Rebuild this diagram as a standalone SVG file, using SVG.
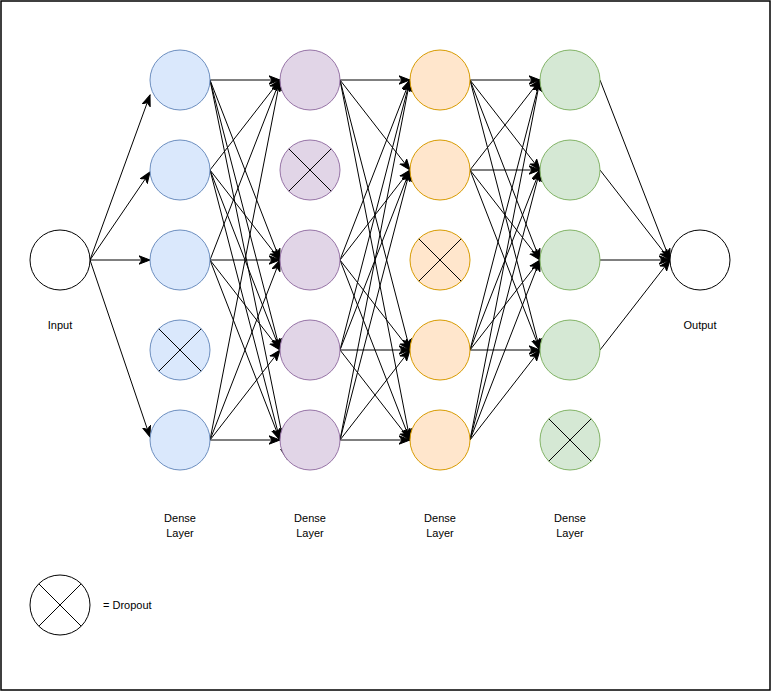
<svg xmlns="http://www.w3.org/2000/svg" width="771" height="691" viewBox="0 0 771 691">
<style>
.e{stroke:#000;stroke-width:1;fill:none;marker-end:url(#a)}
.t{font-family:"Liberation Sans",Arial,sans-serif;font-size:11px;fill:#000;text-anchor:middle}
.b{fill:#dae8fc;stroke:#6c8ebf}
.p{fill:#e1d5e7;stroke:#9673a6}
.o{fill:#ffe6cc;stroke:#d79b00}
.g{fill:#d5e8d4;stroke:#82b366}
.w{fill:#fff;stroke:#000}
.x{stroke:#000;stroke-width:1}
</style>
<defs>
<marker id="a" markerUnits="userSpaceOnUse" markerWidth="12" markerHeight="10" viewBox="0 0 12 10" refX="11" refY="5" orient="auto">
<path d="M0,0.8 L11,5 L0,9.2 L3,5 z" fill="#000" stroke="#000" stroke-width="1"/>
</marker>
</defs>
<rect x="1" y="1" width="769" height="689" fill="#fff" stroke="#000" stroke-width="1.5"/>
<g id="connectors">
<line class="e" x1="90" y1="260" x2="150" y2="95"/>
<line class="e" x1="90" y1="260" x2="150" y2="172"/>
<line class="e" x1="90" y1="260" x2="150" y2="260"/>
<line class="e" x1="90" y1="260" x2="150" y2="437"/>
<line class="e" x1="210" y1="80" x2="280" y2="80"/>
<line class="e" x1="210" y1="80" x2="280" y2="260"/>
<line class="e" x1="210" y1="80" x2="280" y2="350"/>
<line class="e" x1="210" y1="80" x2="287" y2="459"/>
<line class="e" x1="210" y1="170" x2="280" y2="80"/>
<line class="e" x1="210" y1="170" x2="280" y2="260"/>
<line class="e" x1="210" y1="170" x2="280" y2="350"/>
<line class="e" x1="210" y1="170" x2="280" y2="440"/>
<line class="e" x1="210" y1="260" x2="280" y2="80"/>
<line class="e" x1="210" y1="260" x2="280" y2="260"/>
<line class="e" x1="210" y1="260" x2="280" y2="350"/>
<line class="e" x1="210" y1="260" x2="280" y2="440"/>
<line class="e" x1="210" y1="440" x2="280" y2="80"/>
<line class="e" x1="210" y1="440" x2="280" y2="260"/>
<line class="e" x1="210" y1="440" x2="280" y2="350"/>
<line class="e" x1="210" y1="440" x2="280" y2="440"/>
<line class="e" x1="340" y1="80" x2="410" y2="80"/>
<line class="e" x1="340" y1="80" x2="410" y2="170"/>
<line class="e" x1="340" y1="80" x2="410" y2="350"/>
<line class="e" x1="340" y1="80" x2="410" y2="440"/>
<line class="e" x1="340" y1="260" x2="410" y2="80"/>
<line class="e" x1="340" y1="260" x2="410" y2="170"/>
<line class="e" x1="340" y1="260" x2="410" y2="350"/>
<line class="e" x1="340" y1="260" x2="410" y2="440"/>
<line class="e" x1="340" y1="350" x2="410" y2="80"/>
<line class="e" x1="340" y1="350" x2="410" y2="170"/>
<line class="e" x1="340" y1="350" x2="410" y2="350"/>
<line class="e" x1="340" y1="350" x2="410" y2="440"/>
<line class="e" x1="340" y1="440" x2="410" y2="80"/>
<line class="e" x1="340" y1="440" x2="410" y2="170"/>
<line class="e" x1="340" y1="440" x2="410" y2="350"/>
<line class="e" x1="340" y1="440" x2="410" y2="440"/>
<line class="e" x1="470" y1="80" x2="540" y2="80"/>
<line class="e" x1="470" y1="80" x2="540" y2="170"/>
<line class="e" x1="470" y1="80" x2="540" y2="260"/>
<line class="e" x1="470" y1="80" x2="540" y2="350"/>
<line class="e" x1="470" y1="170" x2="540" y2="80"/>
<line class="e" x1="470" y1="170" x2="540" y2="170"/>
<line class="e" x1="470" y1="170" x2="540" y2="260"/>
<line class="e" x1="470" y1="170" x2="540" y2="350"/>
<line class="e" x1="470" y1="350" x2="540" y2="80"/>
<line class="e" x1="470" y1="350" x2="540" y2="170"/>
<line class="e" x1="470" y1="350" x2="540" y2="260"/>
<line class="e" x1="470" y1="350" x2="540" y2="350"/>
<line class="e" x1="470" y1="440" x2="540" y2="80"/>
<line class="e" x1="470" y1="440" x2="540" y2="170"/>
<line class="e" x1="470" y1="440" x2="540" y2="260"/>
<line class="e" x1="470" y1="440" x2="540" y2="350"/>
<line class="e" x1="600" y1="80" x2="670" y2="260"/>
<line class="e" x1="600" y1="170" x2="670" y2="260"/>
<line class="e" x1="600" y1="260" x2="670" y2="260"/>
<line class="e" x1="600" y1="350" x2="670" y2="260"/>
</g>
<g id="input"><circle class="w" cx="60" cy="260" r="30"/><text class="t" x="60" y="329">Input</text></g>
<g id="output"><circle class="w" cx="700" cy="260" r="30"/><text class="t" x="700" y="329">Output</text></g>
<g id="l1n1"><circle class="b" cx="180" cy="80" r="30"/></g>
<g id="l1n2"><circle class="b" cx="180" cy="170" r="30"/></g>
<g id="l1n3"><circle class="b" cx="180" cy="260" r="30"/></g>
<g id="l1n4"><circle class="b" cx="180" cy="350" r="30"/><path class="x" d="M158.8,328.8 L201.2,371.2 M201.2,328.8 L158.8,371.2"/></g>
<g id="l1n5"><circle class="b" cx="180" cy="440" r="30"/></g>
<g id="l2n1"><circle class="p" cx="310" cy="80" r="30"/></g>
<g id="l2n2"><circle class="p" cx="310" cy="170" r="30"/><path class="x" d="M288.8,148.8 L331.2,191.2 M331.2,148.8 L288.8,191.2"/></g>
<g id="l2n3"><circle class="p" cx="310" cy="260" r="30"/></g>
<g id="l2n4"><circle class="p" cx="310" cy="350" r="30"/></g>
<g id="l2n5"><circle class="p" cx="310" cy="440" r="30"/></g>
<g id="l3n1"><circle class="o" cx="440" cy="80" r="30"/></g>
<g id="l3n2"><circle class="o" cx="440" cy="170" r="30"/></g>
<g id="l3n3"><circle class="o" cx="440" cy="260" r="30"/><path class="x" d="M418.8,238.8 L461.2,281.2 M461.2,238.8 L418.8,281.2"/></g>
<g id="l3n4"><circle class="o" cx="440" cy="350" r="30"/></g>
<g id="l3n5"><circle class="o" cx="440" cy="440" r="30"/></g>
<g id="l4n1"><circle class="g" cx="570" cy="80" r="30"/></g>
<g id="l4n2"><circle class="g" cx="570" cy="170" r="30"/></g>
<g id="l4n3"><circle class="g" cx="570" cy="260" r="30"/></g>
<g id="l4n4"><circle class="g" cx="570" cy="350" r="30"/></g>
<g id="l4n5"><circle class="g" cx="570" cy="440" r="30"/><path class="x" d="M548.8,418.8 L591.2,461.2 M591.2,418.8 L548.8,461.2"/></g>
<g id="label1"><text class="t" x="180" y="522">Dense</text><text class="t" x="180" y="537">Layer</text></g>
<g id="label2"><text class="t" x="310" y="522">Dense</text><text class="t" x="310" y="537">Layer</text></g>
<g id="label3"><text class="t" x="440" y="522">Dense</text><text class="t" x="440" y="537">Layer</text></g>
<g id="label4"><text class="t" x="570" y="522">Dense</text><text class="t" x="570" y="537">Layer</text></g>
<g id="legend"><circle class="w" cx="60" cy="605" r="30"/><path class="x" d="M38.8,583.8 L81.2,626.2 M81.2,583.8 L38.8,626.2"/><text class="t" x="103" y="609" style="text-anchor:start">= Dropout</text></g>
</svg>
